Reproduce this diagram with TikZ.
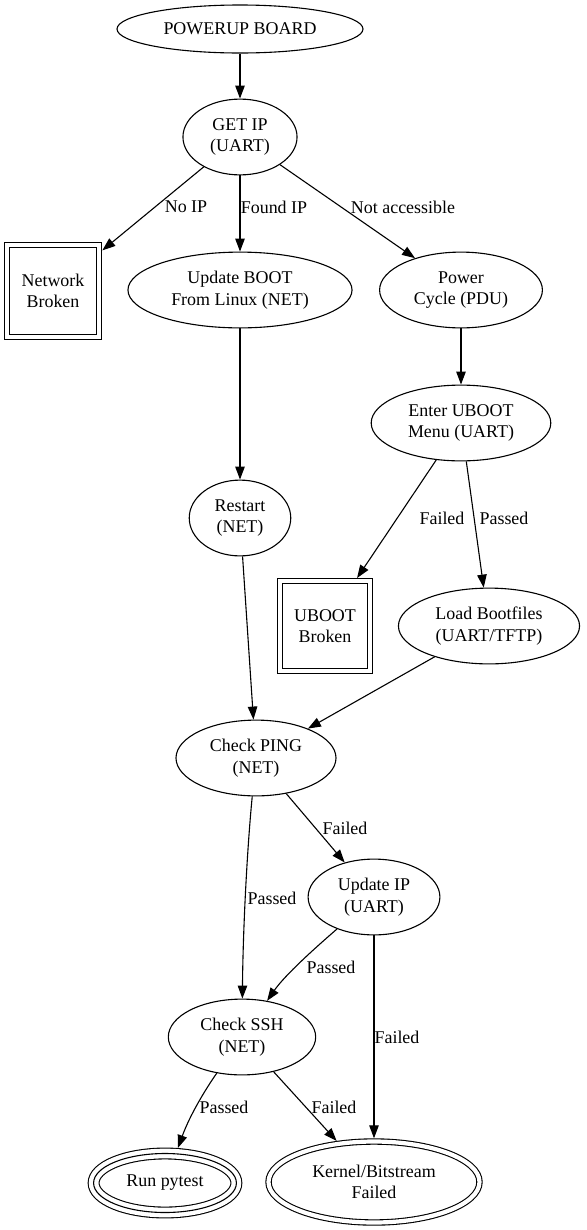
\documentclass[tikz,border=0pt]{standalone}
\usepackage{fontspec}
\setmainfont{Liberation Serif}
\usetikzlibrary{arrows.meta,shapes.geometric}
\begin{document}
\begin{tikzpicture}[x=1bp,y=-1bp,
  every node/.style={font=\fontsize{18}{21.5}\selectfont},
  st/.style={ellipse, draw, line width=1.1bp, inner xsep=10.5bp, inner ysep=2bp,
    minimum height=75.8bp, align=center},
  dsq/.style={rectangle, draw, double, double distance=4.2bp, line width=1.1bp,
    minimum size=92.3bp, inner sep=0pt, outer sep=3.2bp, align=center},
  dell/.style={ellipse, draw, double, double distance=4.2bp, line width=1.1bp,
    inner sep=0pt, outer sep=3.2bp, align=center},
  tell/.style={ellipse, draw, double, double distance=9.7bp, line width=1.1bp,
    inner sep=0pt, outer sep=5.95bp, align=center},
  conn/.style={draw, line width=1.1bp, -{Triangle[length=13bp,width=9.5bp]}},
  lbl/.style={inner sep=0pt}
]
\useasboundingbox (0,0) rectangle (587,1230);
% nodes
\node[st, minimum width=234bp, minimum height=48bp] (pwr) at (240,29) {POWERUP BOARD};
\node[st] (getip) at (240,137) {GET IP\\(UART)};
\node[dsq] (net) at (53,291) {Network\\Broken};
\node[st] (upd) at (240,290) {Update BOOT\\From Linux (NET)};
\node[st] (pdu) at (461,290) {Power\\Cycle (PDU)};
\node[st] (uboot) at (461,423) {Enter UBOOT\\Menu (UART)};
\node[st] (rst) at (240,518) {Restart\\(NET)};
\node[dsq, minimum size=89.5bp] (ubb) at (325,626) {UBOOT\\Broken};
\node[st] (load) at (489,626) {Load Bootfiles\\(UART/TFTP)};
\node[st] (ping) at (256,758) {Check PING\\(NET)};
\node[st] (updip) at (374,897) {Update IP\\(UART)};
\node[st] (ssh) at (242,1037) {Check SSH\\(NET)};
\node[tell, minimum width=142.8bp, minimum height=59bp] (pytest) at (165,1183) {Run pytest};
\draw[line width=1.1bp] (pytest.center) ellipse [x radius=71.4bp, y radius=29.5bp];
\node[dell, minimum width=211bp, minimum height=81bp] (kern) at (374,1182) {Kernel/Bitstream\\Failed};
% connectors
\draw[conn] (pwr) -- (getip);
\draw[conn] (getip) -- (net);
\draw[conn] (getip) -- (upd);
\draw[conn] (getip) -- (pdu);
\draw[conn] (upd) -- (rst);
\draw[conn] (pdu) -- (uboot);
\draw[conn] (uboot) -- (ubb);
\draw[conn] (uboot) -- (load);
\draw[conn] (rst) -- (ping);
\draw[conn] (load) -- (ping);
\draw[conn] (ping) .. controls (247,850) and (243,930) .. (ssh);
\draw[conn] (ping) -- (updip);
\draw[conn] (updip) .. controls (315,948) and (285,975) .. (ssh);
\draw[conn] (updip) -- (kern);
\draw[conn] (ssh) .. controls (205,1090) and (190,1115) .. (pytest);
\draw[conn] (ssh) -- (kern);
% labels
\node[lbl] (l1) at (186,207) {No IP};
\node[lbl] (l2) at (274,207) {Found IP};
\node[lbl] (l3) at (403,207) {Not accessible};
\node[lbl] (l4) at (442,518) {Failed};
\node[lbl] (l5) at (504,518) {Passed};
\node[lbl] (l6) at (345,828) {Failed};
\node[lbl] (l7) at (272,898) {Passed};
\node[lbl] (l8) at (331,967) {Passed};
\node[lbl] (l9) at (397,1037) {Failed};
\node[lbl] (l10) at (224,1107) {Passed};
\node[lbl] (l11) at (334,1107) {Failed};
\end{tikzpicture}
\end{document}
